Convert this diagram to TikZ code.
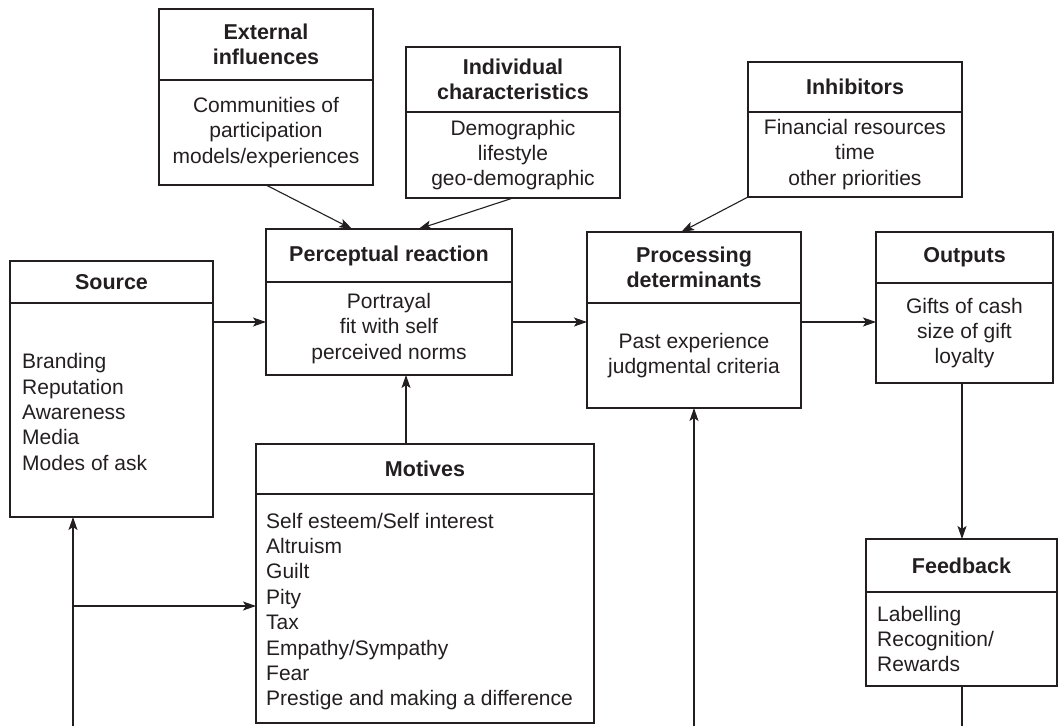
\documentclass[tikz,border=0pt]{standalone}
\usepackage{fontspec}
\setmainfont{Liberation Sans}
\usetikzlibrary{arrows.meta,calc}
\definecolor{ink}{HTML}{231F20}
\tikzset{
  box/.style={draw=ink, line width=1.1pt, inner sep=0pt, outer sep=0pt, rectangle},
  divline/.style={draw=ink, line width=1.3pt},
  head/.style={font=\fontsize{21.5}{25}\selectfont\bfseries, text=ink, align=center, inner sep=0pt},
  bodytxt/.style={font=\fontsize{21}{25.4}\selectfont, text=ink, inner sep=0pt},
  arr/.style={draw=ink, line width=1.1pt, -{Stealth[length=13pt,width=9pt,inset=3pt]}},
  plain/.style={draw=ink, line width=1.1pt}
}
\newcommand\umlbox[7]{%
  \node[box, anchor=north west, minimum width={(#4-#2)*1pt}, minimum height={(#5-#3)*1pt}] (#1) at (#2,#3) {};
  \draw[divline] (#2,#6) -- (#4,#6);
  \node[head] (#1h) at ({(#2+#4)/2},{(#3+#6)/2}) {#7};
}
\begin{document}
\begin{tikzpicture}[x=1pt,y=-1pt]
\useasboundingbox (0,0) rectangle (1063,726);
% boxes
\umlbox{ext}{159}{9}{373}{185}{80}{External\\influences}
\node[bodytxt, align=center] (extb) at ({(159+373)/2},{(80+185)/2}) {Communities of\\participation\\models/experiences};
\umlbox{ind}{406}{47}{620}{198}{112}{Individual\\characteristics}
\node[bodytxt, align=center] (indb) at ({(406+620)/2},{(112+198)/2}) {Demographic\\lifestyle\\geo-demographic};
\umlbox{inh}{748}{62}{962}{197}{112}{Inhibitors}
\node[bodytxt, align=center] (inhb) at ({(748+962)/2},{(112+197)/2}) {Financial resources\\time\\other priorities};
\umlbox{perc}{266}{229}{512}{375}{282}{Perceptual reaction}
\node[bodytxt, align=center] (percb) at ({(266+512)/2},{(282+375)/2}) {Portrayal\\fit with self\\perceived norms};
\umlbox{proc}{587}{232}{801}{408}{303}{Processing\\determinants}
\node[bodytxt, align=center] (procb) at ({(587+801)/2},{(303+408)/2}) {Past experience\\judgmental criteria};
\umlbox{out}{876}{232}{1053}{383}{283}{Outputs}
\node[bodytxt, align=center] (outb) at ({(876+1053)/2},{(283+383)/2}) {Gifts of cash\\size of gift\\loyalty};
\umlbox{src}{10}{261}{213}{517}{303}{Source}
\node[bodytxt, align=left, anchor=west] (srcb) at (22,{(303+517)/2+2}) {Branding\\Reputation\\Awareness\\Media\\Modes of ask};
\umlbox{mot}{256}{444}{594}{723}{494}{Motives}
\node[bodytxt, align=left, anchor=west] (motb) at (266,{(494+723)/2+3}) {Self esteem/Self interest\\Altruism\\Guilt\\Pity\\Tax\\Empathy/Sympathy\\Fear\\Prestige and making a difference};
\umlbox{fb}{866}{539}{1057}{686}{592}{Feedback}
\node[bodytxt, align=left, anchor=west] (fbb) at (877,{(592+686)/2}) {Labelling\\Recognition/\\Rewards};
% helper coordinates
\coordinate (rowy) at (0,322);
\coordinate (motx) at (406,0);
\coordinate (botL) at (73,726);
\coordinate (joinL) at (73,606);
\coordinate (botM) at (694,726);
\coordinate (fbx) at (962,0);
% connectors
\draw[arr] (ext.south) -- ($(perc.north west)!0.35!(perc.north east)$);
\draw[arr] (ind.south) -- ($(perc.north west)!0.62!(perc.north east)$);
\draw[arr] (inh.south west) -- ($(proc.north west)!0.44!(proc.north east)$);
\draw[arr] (src.east |- rowy) -- (perc.west |- rowy);
\draw[arr] (perc.east |- rowy) -- (proc.west |- rowy);
\draw[arr] (proc.east |- rowy) -- (out.west |- rowy);
\draw[arr] (mot.north -| motx) -- (perc.south -| motx);
\draw[arr] (out.south -| fbx) -- (fb.north -| fbx);
\draw[plain] (fb.south -| fbx) -- (fbx |- botL);
\draw[arr] (botL) -- (botL |- src.south);
\draw[arr] (joinL) -- (joinL -| mot.west);
\draw[arr] (botM) -- (botM |- proc.south);
\end{tikzpicture}
\end{document}
